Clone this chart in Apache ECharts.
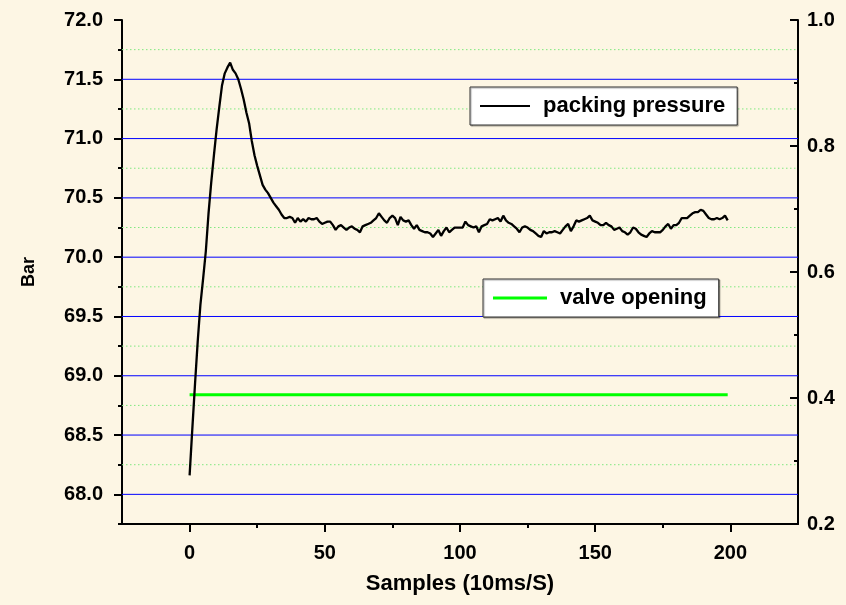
<!DOCTYPE html>
<html>
<head>
<meta charset="utf-8">
<script src="https://cdn.jsdelivr.net/npm/echarts@6/dist/echarts.min.js"></script>
<style>
html,body{margin:0;padding:0;background:#FDF6E4;}
#chart{width:846px;height:605px;}
</style>
</head>
<body>
<div id="chart"></div>
<script>
// ---- data ----
var pressure = [
68.16, 68.55, 68.93, 69.29, 69.60, 69.82, 70.05, 70.37, 70.63, 70.86,
71.08, 71.27, 71.45, 71.55, 71.60, 71.64, 71.58, 71.55, 71.50, 71.42,
71.33, 71.22, 71.13, 70.98, 70.86, 70.77, 70.69, 70.61, 70.57, 70.54,
70.50, 70.46, 70.43, 70.40, 70.36, 70.33, 70.33, 70.34, 70.33, 70.29,
70.33, 70.30, 70.32, 70.30, 70.33, 70.32, 70.32, 70.33, 70.30, 70.28,
70.29, 70.30, 70.30, 70.27, 70.23, 70.26, 70.27, 70.25, 70.23, 70.25,
70.26, 70.24, 70.23, 70.21, 70.26, 70.27, 70.28, 70.29, 70.31, 70.33,
70.37, 70.34, 70.31, 70.29, 70.33, 70.35, 70.33, 70.27, 70.34, 70.31,
70.30, 70.31, 70.27, 70.24, 70.27, 70.23, 70.22, 70.21, 70.21, 70.20,
70.17, 70.20, 70.23, 70.18, 70.22, 70.25, 70.21, 70.23, 70.25, 70.25,
70.25, 70.25, 70.30, 70.27, 70.26, 70.25, 70.26, 70.21, 70.26, 70.27,
70.28, 70.32, 70.31, 70.32, 70.33, 70.30, 70.35, 70.31, 70.29, 70.28,
70.26, 70.24, 70.21, 70.25, 70.26, 70.25, 70.23, 70.22, 70.20, 70.18,
70.17, 70.22, 70.20, 70.21, 70.21, 70.22, 70.21, 70.20, 70.23, 70.26,
70.28, 70.22, 70.26, 70.31, 70.30, 70.31, 70.32, 70.33, 70.35, 70.31,
70.30, 70.29, 70.27, 70.27, 70.29, 70.27, 70.26, 70.23, 70.24, 70.25,
70.22, 70.21, 70.19, 70.21, 70.25, 70.24, 70.21, 70.19, 70.18, 70.17,
70.20, 70.22, 70.21, 70.21, 70.21, 70.23, 70.26, 70.28, 70.24, 70.27,
70.27, 70.29, 70.33, 70.33, 70.33, 70.35, 70.37, 70.38, 70.38, 70.40,
70.39, 70.36, 70.33, 70.32, 70.32, 70.33, 70.32, 70.33, 70.35, 70.31
];
var valveX = [0, 199];
var valveY = [0.405, 0.405];

var xMajorTicks = [0, 50, 100, 150, 200];
var xMinorTicks = [25, 75, 125, 175];
var yMajorTicks = [68.0, 68.5, 69.0, 69.5, 70.0, 70.5, 71.0, 71.5, 72.0];
var yMinorTicks = [67.75, 68.25, 68.75, 69.25, 69.75, 70.25, 70.75, 71.25, 71.75];
var blueGrid = [68.0, 68.5, 69.0, 69.5, 70.0, 70.5, 71.0, 71.5];
var greenGrid = [68.25, 68.75, 69.25, 69.75, 70.25, 70.75, 71.25, 71.75];

var xRange = [-25, 225];
var yLeftRange = [67.75, 72.0];
var yRightRange = [0.2, 1.0];

var seriesNames = ['packing pressure', 'valve opening'];
var xTitle = 'Samples (10ms/S)';
var yTitle = 'Bar';

// ---- chart ----
var FONT = '"Liberation Sans", Arial, sans-serif';
var pressurePts = pressure.map(function (v, i) { return [i, v]; });
var valvePts = valveX.map(function (x, i) { return [x, valveY[i]]; });

var chart = echarts.init(document.getElementById('chart'), null, {renderer: 'canvas'});
var axisLine = {show: true, onZero: false, lineStyle: {color: '#000', width: 2}};
var noLine = {show: false, onZero: false};
var labelStyle = {color: '#000', fontSize: 20, fontWeight: 'bold', fontFamily: FONT};
var tickStyle = {color: '#000', width: 2};
var noSplit = {show: false, lineStyle: {color: 'rgba(0,0,0,0)'}};

// horizontal grid lines, drawn as two-point lines across the x range
function gridLine(v, style) {
  return {
    type: 'line', data: [[xRange[0], v], [xRange[1], v]], xAxisIndex: 0, yAxisIndex: 0,
    z: 1, silent: true, symbol: 'none', lineStyle: style, emphasis: {disabled: true},
    tooltip: {show: false}
  };
}
var blueStyle = {color: '#0000FF', width: 1, type: 'solid'};
var greenStyle = {color: '#7FE87F', width: 1, type: [1.5, 2.5]};
var gridSeries = blueGrid.map(function (v) { return gridLine(v, blueStyle); })
  .concat(greenGrid.map(function (v) { return gridLine(v, greenStyle); }));

var legendCommon = {
  icon: 'rect', backgroundColor: '#fff', borderColor: '#333', borderWidth: 1,
  shadowColor: 'rgba(0,0,0,0.35)', shadowBlur: 1, shadowOffsetX: 1, shadowOffsetY: 1,
  padding: [8, 12, 8, 10], selectedMode: false,
  textStyle: {color: '#000', fontSize: 22, fontWeight: 'bold', fontFamily: FONT, lineHeight: 22, padding: [0, 0, 0, 8]}
};

chart.setOption({
  animation: false,
  backgroundColor: '#FDF6E4',
  grid: {left: 122, right: 48, top: 20, bottom: 81, containLabel: false},
  legend: [
    Object.assign({data: [seriesNames[0]], left: 470, top: 87, itemWidth: 50, itemHeight: 2}, legendCommon),
    Object.assign({data: [seriesNames[1]], left: 483, top: 279, itemWidth: 54, itemHeight: 3}, legendCommon)
  ],
  xAxis: [
    {
      type: 'value', position: 'bottom', min: xRange[0], max: xRange[1],
      axisLine: axisLine,
      axisTick: {show: true, customValues: xMajorTicks, length: 8, lineStyle: tickStyle},
      axisLabel: Object.assign({customValues: xMajorTicks, margin: 19}, labelStyle),
      splitLine: noSplit,
      name: xTitle, nameLocation: 'middle', nameGap: 49,
      nameTextStyle: {color: '#000', fontSize: 22, fontWeight: 'bold', fontFamily: FONT}
    },
    {
      type: 'value', position: 'bottom', min: xRange[0], max: xRange[1],
      axisLine: noLine,
      axisTick: {show: true, customValues: xMinorTicks, length: 4, lineStyle: tickStyle},
      axisLabel: {show: false},
      splitLine: noSplit
    }
  ],
  yAxis: [
    {
      type: 'value', position: 'left', min: yLeftRange[0], max: yLeftRange[1],
      axisLine: axisLine,
      axisTick: {show: true, customValues: yMajorTicks, length: 8, lineStyle: tickStyle},
      axisLabel: Object.assign({customValues: yMajorTicks, margin: 19, formatter: function (v) { return v.toFixed(1); }}, labelStyle),
      splitLine: noSplit,
      name: yTitle, nameLocation: 'middle', nameGap: 84, nameRotate: 90,
      nameTextStyle: {color: '#000', fontSize: 18, fontWeight: 'bold', fontFamily: FONT}
    },
    {
      type: 'value', position: 'left', min: yLeftRange[0], max: yLeftRange[1],
      axisLine: noLine,
      axisTick: {show: true, customValues: yMinorTicks, length: 4, lineStyle: tickStyle},
      axisLabel: {show: false},
      splitLine: noSplit
    },
    {
      type: 'value', position: 'right', min: yRightRange[0], max: yRightRange[1], interval: 0.2,
      axisLine: axisLine,
      axisTick: {show: true, inside: true, length: 8, lineStyle: tickStyle},
      minorTick: {show: true, splitNumber: 2, length: 4, lineStyle: tickStyle},
      axisLabel: Object.assign({margin: 9, formatter: function (v) { return v.toFixed(1); }}, labelStyle),
      splitLine: noSplit,
      minorSplitLine: noSplit
    }
  ],
  series: gridSeries.concat([
    {
      name: seriesNames[0], type: 'line', data: pressurePts, xAxisIndex: 0, yAxisIndex: 0,
      symbol: 'none', z: 3, lineStyle: {color: '#000', width: 2.3}, itemStyle: {color: '#000'}
    },
    {
      name: seriesNames[1], type: 'line', data: valvePts, xAxisIndex: 0, yAxisIndex: 2,
      symbol: 'none', z: 2, lineStyle: {color: '#00FF00', width: 3}, itemStyle: {color: '#00FF00'}
    }
  ])
});
</script>
</body>
</html>
